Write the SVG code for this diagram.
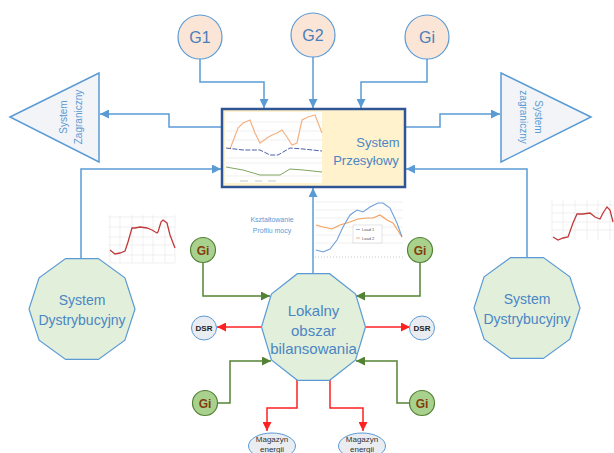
<svg xmlns="http://www.w3.org/2000/svg" width="614" height="453" viewBox="0 0 614 453">
<style>
.conn{fill:none;stroke:#5B9BD5;stroke-width:1.5}
.gconn{fill:none;stroke:#548235;stroke-width:1.5}
.rconn{fill:none;stroke:#FF2020;stroke-width:1.5}
.gen{fill:#FBE5D6;stroke:#5B9BD5;stroke-width:1.2}
.gtxt{font-family:"Liberation Sans",Arial,sans-serif;font-size:16px;fill:#4A7EBB;text-anchor:middle}
.dec{fill:#E2EFDA;stroke:#5B9BD5;stroke-width:1.2}
.dtxt{font-family:"Liberation Sans",Arial,sans-serif;font-size:14px;fill:#4A86C5;text-anchor:middle}
.tri{fill:#F2F4F7;stroke:#5B9BD5;stroke-width:1.5}
.ttxt{font-family:"Liberation Sans",Arial,sans-serif;font-size:10px;fill:#5B9BD5;text-anchor:middle}
.gi{fill:#A9D18E;stroke:#548235;stroke-width:1.2}
.gitxt{font-family:"Liberation Sans",Arial,sans-serif;font-size:12px;font-weight:bold;fill:#843C0C;text-anchor:middle}
.dsr{fill:#E9EDF2;stroke:#5B9BD5;stroke-width:1}
.dsrtxt{font-family:"Liberation Sans",Arial,sans-serif;font-size:8px;font-weight:bold;fill:#222;text-anchor:middle}
.mag{fill:#E9EDF2;stroke:#5B9BD5;stroke-width:1}
.magtxt{font-family:"Liberation Sans",Arial,sans-serif;font-size:8px;fill:#333;text-anchor:middle}
.grid{stroke:#E6E6E6;stroke-width:0.6;fill:none}
</style>
<defs>
<marker id="ab" viewBox="0 0 10 10" refX="10" refY="5" markerWidth="9" markerHeight="9" markerUnits="userSpaceOnUse" orient="auto"><path d="M0,0L10,5L0,10z" fill="#5B9BD5"/></marker>
<marker id="ag" viewBox="0 0 10 10" refX="10" refY="5" markerWidth="9" markerHeight="9" markerUnits="userSpaceOnUse" orient="auto"><path d="M0,0L10,5L0,10z" fill="#548235"/></marker>
<marker id="ar" viewBox="0 0 10 10" refX="10" refY="5" markerWidth="9" markerHeight="9" markerUnits="userSpaceOnUse" orient="auto"><path d="M0,0L10,5L0,10z" fill="#FF2020"/></marker>
</defs>
<rect width="614" height="453" fill="#FFFFFF"/>

<g id="connectors">
<path class="conn" d="M200,59V82H264V108" marker-end="url(#ab)"/>
<path class="conn" d="M313,57V108" marker-end="url(#ab)"/>
<path class="conn" d="M427,59V82H361V108" marker-end="url(#ab)"/>
<path class="conn" d="M222,127H169V114H100" marker-end="url(#ab)"/>
<path class="conn" d="M405,127H440V114H500" marker-end="url(#ab)"/>
<path class="conn" d="M81,258V169H221" marker-end="url(#ab)"/>
<path class="conn" d="M527,257V169H406" marker-end="url(#ab)"/>
<path class="conn" d="M313,274V188" marker-end="url(#ab)"/>
<path class="gconn" d="M203,263V296H270" marker-end="url(#ag)"/>
<path class="gconn" d="M420,263V296H356" marker-end="url(#ag)"/>
<path class="gconn" d="M218,403H230V361H271" marker-end="url(#ag)"/>
<path class="gconn" d="M409,403H397V361H356" marker-end="url(#ag)"/>
<path class="rconn" d="M261,327H217" marker-end="url(#ar)"/>
<path class="rconn" d="M366,327H410" marker-end="url(#ar)"/>
<path class="rconn" d="M297,380V408H267V431" marker-end="url(#ar)"/>
<path class="rconn" d="M330,380V408H363V431" marker-end="url(#ar)"/>
</g>

<g id="G1"><circle class="gen" cx="200" cy="37" r="22"/><text class="gtxt" x="200" y="43">G1</text></g>
<g id="G2"><circle class="gen" cx="313" cy="35" r="22"/><text class="gtxt" x="313" y="41">G2</text></g>
<g id="Gi-top"><circle class="gen" cx="427" cy="37" r="22"/><text class="gtxt" x="427" y="43">Gi</text></g>

<g id="system-zagraniczny-left">
<polygon class="tri" points="10,117 99,73 99,162"/>
<text class="ttxt" transform="translate(67,117) rotate(-90)">System</text>
<text class="ttxt" transform="translate(82,117) rotate(-90)">Zagraniczny</text>
</g>
<g id="system-zagraniczny-right">
<polygon class="tri" points="591,117 501,73 501,162"/>
<text class="ttxt" transform="translate(534.5,117) rotate(90)">System</text>
<text class="ttxt" transform="translate(519.5,117) rotate(90)">zagraniczny</text>
</g>

<g id="system-przesylowy">
<rect x="222" y="109" width="183" height="78" fill="#FFF2CC" stroke="#2F5597" stroke-width="2.5"/>
<rect x="225" y="112" width="97" height="71" fill="#FFFFFF"/>
<g class="grid"><path d="M226,122H322M226,131H322M226,140H322M226,158H322M226,163H322M226,176H322"/></g>
<polyline fill="none" stroke="#F4B183" stroke-width="1.2" points="230,149 238,128 243,123 250,120 255,133 260,143 267,138 272,135 277,133 282,130 287,137 292,145 297,143 302,120 308,117 315,115 322,133"/>
<polyline fill="none" stroke="#4D5FA8" stroke-width="1" stroke-dasharray="5,1.5" points="226,148 243,150 260,150 270,155 278,155 290,148 303,149 322,151"/>
<polyline fill="none" stroke="#7FA662" stroke-width="1" points="226,167 243,170 260,175 280,175 290,169 303,170 322,172"/>
<path d="M240,181H248M255,181H262M268,181H276" stroke="#C8C8C8" stroke-width="1"/>
<text class="dtxt" x="378" y="147" style="font-size:13px">System</text>
<text class="dtxt" x="366" y="165" style="font-size:13px">Przesyłowy</text>
</g>

<g id="chart-left">
<g class="grid"><path d="M110,215V263M120,215V263M132,215V263M143,215V263M153,215V263M165,215V263M175,215V263M108,217H175M108,227H175M108,237H175M108,245H175M108,255H175M108,263H175"/></g>
<polyline fill="none" stroke="#C0393B" stroke-width="1.3" points="110,250 115,254 120,253 125,251 128,242 132,228 135,228 140,227 147,228 152,230 157,233 158,232 161,222 163,220 167,223 170,235 175,248"/>
</g>
<g id="chart-right">
<g class="grid"><path d="M552,200V240M563,200V240M575,200V240M587,200V240M598,200V240M610,200V240M552,205H614M552,213H614M552,222H614M552,230H614"/></g>
<polyline fill="none" stroke="#C0393B" stroke-width="1.3" points="553,237 558,240 563,238 568,237 573,223 577,214 583,214 590,213 595,217 600,219 603,213 607,207 610,210 613,222"/>
</g>
<g id="chart-middle">
<g class="grid"><path d="M315,202H403M315,210H403M315,218H403M315,227H403M315,235H403M315,243H403"/></g>
<path d="M315,257H403" stroke="#BBBBBB" stroke-width="0.8" stroke-dasharray="1,2"/>
<polyline fill="none" stroke="#F4A05C" stroke-width="1.1" points="316,225 323,227 332,229 340,225 350,222 358,219 367,218 373,218 380,215 387,220 393,223 402,237"/>
<polyline fill="none" stroke="#6F9FD8" stroke-width="1.1" points="316,250 323,252 330,249 337,240 343,227 350,215 357,210 363,212 370,207 378,203 383,203 390,208 397,223 402,237"/>
<rect x="353" y="225" width="29" height="18" fill="#FFFFFF" stroke="#D0D0D0" stroke-width="0.6"/>
<text x="362" y="231" style="font-family:'Liberation Sans',sans-serif;font-size:4px;fill:#555">Load 1</text>
<text x="362" y="239.5" style="font-family:'Liberation Sans',sans-serif;font-size:4px;fill:#555">Load 2</text>
<path d="M356,229.5H360" stroke="#6F9FD8" stroke-width="0.8"/>
<path d="M356,238H360" stroke="#F4A05C" stroke-width="0.8"/>
</g>
<g id="label-ksztaltowanie">
<text x="272" y="222" style="font-family:'Liberation Sans',sans-serif;font-size:7px;fill:#5B9BD5;text-anchor:middle">Kształtowanie</text>
<text x="272" y="233" style="font-family:'Liberation Sans',sans-serif;font-size:7px;fill:#5B9BD5;text-anchor:middle">Profilu mocy</text>
</g>

<g id="system-dystrybucyjny-left">
<polygon class="dec" points="135,309 124.9,340.2 98.4,359.4 65.6,359.4 39.1,340.2 29,309 39.1,277.8 65.6,258.6 98.4,258.6 124.9,277.8"/>
<text class="dtxt" x="82" y="305">System</text>
<text class="dtxt" x="82" y="325">Dystrybucyjny</text>
</g>
<g id="system-dystrybucyjny-right">
<polygon class="dec" points="580,308 569.9,339.2 543.4,358.4 510.6,358.4 484.1,339.2 474,308 484.1,276.8 510.6,257.6 543.4,257.6 569.9,276.8"/>
<text class="dtxt" x="527" y="304">System</text>
<text class="dtxt" x="527" y="324">Dystrybucyjny</text>
</g>
<g id="lokalny-obszar">
<polygon class="dec" points="365.5,327 355.6,359.9 329.6,380.3 297.4,380.3 271.4,359.9 261.5,327 271.4,294.1 297.4,273.7 329.6,273.7 355.6,294.1"/>
<text class="dtxt" x="313.5" y="316" style="font-size:15px">Lokalny</text>
<text class="dtxt" x="313.5" y="336" style="font-size:15px">obszar</text>
<text class="dtxt" x="313.5" y="354" style="font-size:15px">bilansowania</text>
</g>

<g id="Gi-ul"><circle class="gi" cx="203" cy="250" r="12.5"/><text class="gitxt" x="203" y="254.5">Gi</text></g>
<g id="Gi-ur"><circle class="gi" cx="420" cy="250" r="12.5"/><text class="gitxt" x="420" y="254.5">Gi</text></g>
<g id="Gi-ll"><circle class="gi" cx="205" cy="403" r="12.5"/><text class="gitxt" x="205" y="407.5">Gi</text></g>
<g id="Gi-lr"><circle class="gi" cx="422" cy="403" r="12.5"/><text class="gitxt" x="422" y="407.5">Gi</text></g>

<g id="DSR-left"><ellipse class="dsr" cx="204" cy="328" rx="12.5" ry="12"/><text class="dsrtxt" x="204" y="331">DSR</text></g>
<g id="DSR-right"><ellipse class="dsr" cx="422" cy="328" rx="12.5" ry="12"/><text class="dsrtxt" x="422" y="331">DSR</text></g>

<g id="magazyn-1"><ellipse class="mag" cx="272" cy="446" rx="23.5" ry="13"/><text class="magtxt" x="272" y="442">Magazyn</text><text class="magtxt" x="272" y="452">energii</text></g>
<g id="magazyn-2"><ellipse class="mag" cx="362" cy="446" rx="23.5" ry="13"/><text class="magtxt" x="362" y="442">Magazyn</text><text class="magtxt" x="362" y="452">energii</text></g>
</svg>
